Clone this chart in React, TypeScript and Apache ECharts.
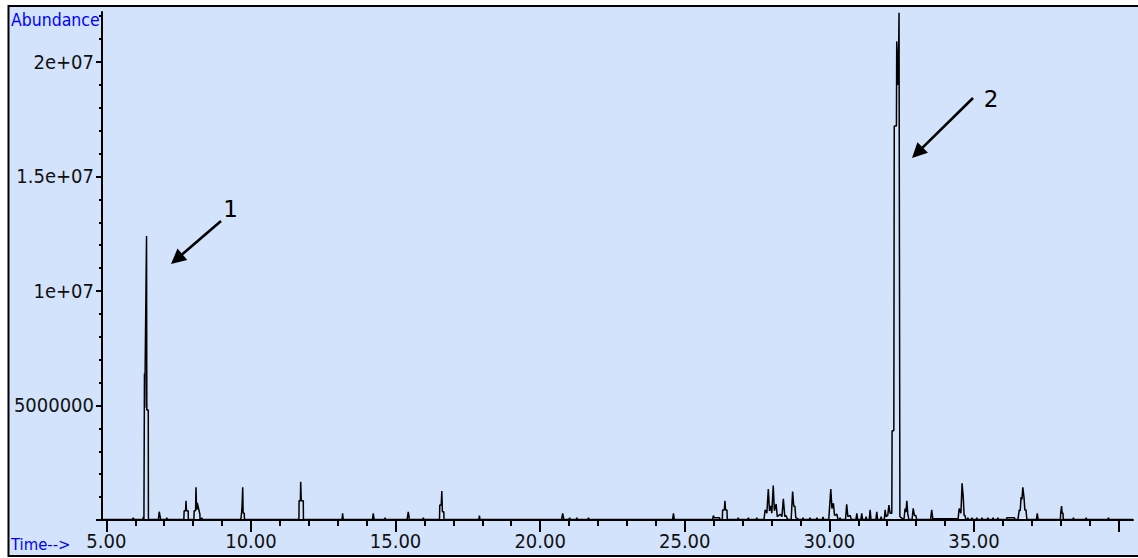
import React, { useEffect, useRef } from "react";
import * as echarts from "echarts";

const B = 20000;

// Chromatogram trace: [retention time (min), abundance]
const trace5to10: [number, number][] = [
  [4.86, B], [5.9, B], [5.93, 1.0e5], [5.96, B],
  [6.26, B], [6.28, 1.4e5], [6.3, B],
  [6.314, B], [6.318, 6.4e6], [6.33, 4.9e6], [6.34, 6.4e6], [6.39, 1.24e7], [6.4, 4.8e6], [6.45, 4.8e6], [6.455, B],
  [6.8, B], [6.83, 3.6e5], [6.86, 1.5e5], [6.88, B],
  [7.07, B], [7.09, 1.0e5], [7.11, B],
  [7.68, B], [7.69, 4.0e5], [7.74, 4.0e5], [7.755, 8.4e5], [7.77, 4.0e5], [7.83, 4.0e5], [7.835, B],
  [8.03, B], [8.035, 4.0e5], [8.085, 4.0e5], [8.1, 1.43e6], [8.115, 7.7e5], [8.13, 4.5e5], [8.145, 7.5e5], [8.235, 2.5e5], [8.24, B],
  [8.28, B], [8.3, 1.0e5], [8.32, B],
  [9.63, B], [9.66, 1.0e5], [9.69, 5.5e5], [9.7, 8.4e5], [9.715, 1.43e6], [9.73, 3.0e5], [9.77, 2.9e5], [9.775, B],
];

const trace10to20: [number, number][] = [
  [11.66, B], [11.665, 8.4e5], [11.71, 8.4e5], [11.72, 1.67e6], [11.74, 8.4e5], [11.81, 8.4e5], [11.815, B],
  [13.15, B], [13.17, 2.9e5], [13.19, B],
  [14.2, B], [14.23, 2.9e5], [14.26, B],
  [14.62, B], [14.64, 1.0e5], [14.66, B],
  [15.4, B], [15.44, 3.6e5], [15.48, B],
  [15.94, B], [15.96, 1.0e5], [15.98, B],
  [16.52, B], [16.53, 6.5e5], [16.58, 6.5e5], [16.6, 1.27e6], [16.62, 3.6e5], [16.67, 3.6e5], [16.675, B],
  [17.88, B], [17.9, 1.9e5], [17.92, B],
];

const trace20to30: [number, number][] = [
  [20.74, B], [20.78, 2.9e5], [20.82, B],
  [21.0, B], [21.02, 1.0e5], [21.04, B],
  [21.25, B], [21.27, 1.0e5], [21.29, B],
  [21.65, B], [21.67, 1.0e5], [21.69, B],
  [24.58, B], [24.61, 2.9e5], [24.64, B],
  [25.96, B], [25.99, 1.9e5], [26.02, 1.0e5], [26.2, 1.0e5], [26.22, B],
  [26.3, B], [26.31, 4.4e5], [26.37, 4.4e5], [26.39, 8.4e5], [26.41, 4.4e5], [26.46, 4.4e5], [26.47, B],
  [26.83, B], [26.85, 1.0e5], [26.87, B],
  [27.18, B], [27.2, 1.0e5], [27.22, B],
  [27.47, B], [27.49, 1.0e5], [27.51, B],
  [27.74, B], [27.78, 4.4e5], [27.84, 3.0e5], [27.89, 1.35e6], [27.93, 4.0e5], [27.97, 6.2e5], [28.01, 3.0e5],
  [28.06, 1.5e6], [28.1, 4.0e5], [28.16, 7.0e5], [28.2, 1.5e5], [28.3, 2.5e5], [28.36, 1.5e5], [28.41, 9.2e5],
  [28.46, 1.5e5], [28.5, 2.0e5], [28.56, B],
  [28.68, B], [28.7, 5.0e5], [28.73, 1.24e6], [28.77, 6.0e5], [28.81, 6.0e5], [28.84, 1.0e5], [28.95, B],
  [29.07, B], [29.09, 1.0e5], [29.11, B],
  [29.31, B], [29.33, 1.0e5], [29.35, B],
  [29.55, B], [29.57, 1.0e5], [29.59, B],
  [29.76, B], [29.78, 1.3e5], [29.8, B],
];

const trace30to41: [number, number][] = [
  [29.98, B], [30.0, 4.0e5], [30.05, 1.35e6], [30.09, 5.0e5], [30.14, 7.3e5], [30.18, 2.0e5], [30.26, 2.5e5], [30.3, B],
  [30.35, B], [30.37, 1.0e5], [30.39, B],
  [30.56, B], [30.6, 6.9e5], [30.64, 1.5e5], [30.72, 2.0e5], [30.76, B],
  [30.92, B], [30.95, 2.9e5], [30.98, B],
  [31.09, B], [31.12, 2.9e5], [31.15, B],
  [31.25, B], [31.27, 1.5e5], [31.29, B],
  [31.38, B], [31.41, 4.4e5], [31.44, B],
  [31.61, B], [31.64, 3.6e5], [31.67, B],
  [31.77, B], [31.79, 1.5e5], [31.81, B],
  [31.9, B], [31.93, 4.4e5], [31.96, 1.5e5], [32.02, 2.0e5], [32.06, 6.5e5], [32.1, 3.0e5], [32.16, 3.0e5],
  [32.17, 3.9e6], [32.23, 3.9e6], [32.245, 1.72e7], [32.32, 1.72e7], [32.33, 2.09e7], [32.37, 1.9e7], [32.4, 2.09e7],
  [32.41, 2.215e7], [32.44, 1.5e5], [32.48, 1.0e5],
  [32.58, B], [32.62, 5.0e5], [32.65, 3.5e5], [32.68, 8.4e5], [32.71, 3.0e5], [32.75, B],
  [32.86, B], [32.9, 5.1e5], [32.94, 2.0e5], [32.99, 2.0e5], [33.02, B],
  [33.5, B], [33.54, 4.4e5], [33.58, B], [33.6, 5.0e4], [34.4, 5.0e4],
  [34.45, B], [34.49, 5.0e5], [34.55, 3.0e5], [34.59, 1.6e6], [34.63, 1.0e6], [34.66, 2.0e5], [34.69, 2.0e5], [34.72, B],
  [34.77, B], [34.79, 1.0e5], [34.81, B], [34.91, B], [34.93, 1.0e5], [34.95, B],
  [35.08, B], [35.1, 1.0e5], [35.12, B], [35.26, B], [35.28, 1.0e5], [35.3, B],
  [35.46, B], [35.48, 1.0e5], [35.5, B], [35.64, B], [35.66, 1.0e5], [35.68, B],
  [35.81, B], [35.83, 1.0e5], [35.85, B],
  [36.12, B], [36.14, 1.0e5], [36.4, 1.0e5], [36.42, B],
  [36.52, B], [36.57, 4.5e5], [36.6, 4.0e5], [36.63, 1.0e6], [36.66, 9.0e5], [36.69, 1.43e6], [36.73, 1.0e6], [36.76, 4.4e5], [36.8, 4.4e5], [36.83, B],
  [37.16, B], [37.19, 2.9e5], [37.22, B],
  [37.99, B], [38.0, 3.0e5], [38.03, 6.1e5], [38.05, 3.0e5], [38.08, 3.0e5], [38.09, B],
  [38.42, B], [38.44, 1.0e5], [38.46, B],
  [38.86, B], [38.88, 1.0e5], [38.9, B],
  [39.63, B], [39.65, 1.0e5], [39.67, B],
  [40.5, B],
];

const xMajorTicks = [5, 10, 15, 20, 25, 30, 35, 40];
const xLabelValues = [5, 10, 15, 20, 25, 30, 35];
const xMinorTicks = [6, 7, 8, 9, 11, 12, 13, 14, 16, 17, 18, 19, 21, 22, 23, 24, 26, 27, 28, 29, 31, 32, 33, 34, 36, 37, 38, 39];
const yTickValues = [0, 5000000, 10000000, 15000000, 20000000];
const yTickLabels = ["", "5000000", "1e+07", "1.5e+07", "2e+07"];
const yMinorTicks = [1e6, 2e6, 3e6, 4e6, 6e6, 7e6, 8e6, 9e6, 11e6, 12e6, 13e6, 14e6, 16e6, 17e6, 18e6, 19e6, 21e6, 22e6];

const peakLabels = ["1", "2"];

const NARROW = "'Liberation Sans Narrow', 'Arial Narrow', 'DejaVu Sans Condensed', sans-serif";

function arrow(x1: number, y1: number, x2: number, y2: number) {
  const dx = x2 - x1;
  const dy = y2 - y1;
  const len = Math.sqrt(dx * dx + dy * dy);
  const ux = dx / len;
  const uy = dy / len;
  const L = 15;
  const W = 7.5;
  const bx = x2 - ux * L;
  const by = y2 - uy * L;
  return [
    {
      type: "line",
      shape: { x1, y1, x2: bx + ux * 2, y2: by + uy * 2 },
      style: { stroke: "#000", lineWidth: 2.6 },
      z: 10,
    },
    {
      type: "polygon",
      shape: {
        points: [
          [x2, y2],
          [bx - uy * W, by + ux * W],
          [bx + uy * W, by - ux * W],
        ],
      },
      style: { fill: "#000" },
      z: 10,
    },
  ];
}

export default function App() {
  const ref = useRef<HTMLDivElement>(null);
  useEffect(() => {
    if (!ref.current) return;
    const chart = echarts.init(ref.current, null, { renderer: "svg" });
    const trace = [...trace5to10, ...trace10to20, ...trace20to30, ...trace30to41];
    const xmin = 4.85;
    const xmax = 40.5;
    const ymax = 22183000;
    chart.setOption({
      animation: false,
      backgroundColor: "#ffffff",
      grid: { left: 102, right: 5, top: 12, bottom: 38, containLabel: false },
      xAxis: [
        {
          type: "value",
          min: xmin,
          max: xmax,
          position: "bottom",
          axisLine: { show: true, onZero: false, lineStyle: { color: "#000", width: 2 } },
          axisTick: { show: true, customValues: xMajorTicks, length: 12, lineStyle: { color: "#000", width: 2 } },
          axisLabel: {
            show: true,
            customValues: xLabelValues,
            formatter: (v: number) => v.toFixed(2),
            color: "#111",
            fontSize: 20,
            fontFamily: NARROW,
            margin: 11,
          },
          splitLine: { show: false },
        },
        {
          type: "value",
          min: xmin,
          max: xmax,
          position: "bottom",
          axisLine: { show: false, onZero: false },
          axisTick: { show: true, customValues: xMinorTicks, length: 6, lineStyle: { color: "#000", width: 2 } },
          axisLabel: { show: false },
          splitLine: { show: false },
        },
      ],
      yAxis: [
        {
          type: "value",
          min: 0,
          max: ymax,
          position: "left",
          axisLine: { show: true, onZero: false, lineStyle: { color: "#000", width: 2 } },
          axisTick: { show: true, customValues: yTickValues, length: 6, lineStyle: { color: "#000", width: 2 } },
          axisLabel: {
            show: true,
            customValues: yTickValues,
            formatter: (v: number) => {
              const i = yTickValues.indexOf(v);
              return i >= 0 ? yTickLabels[i] : "";
            },
            color: "#111",
            fontSize: 20,
            fontFamily: NARROW,
            margin: 8,
          },
          splitLine: { show: false },
        },
        {
          type: "value",
          min: 0,
          max: ymax,
          position: "left",
          axisLine: { show: false, onZero: false },
          axisTick: { show: true, customValues: yMinorTicks, length: 3, lineStyle: { color: "#000", width: 2 } },
          axisLabel: { show: false },
          splitLine: { show: false },
        },
      ],
      graphic: [
        {
          type: "rect",
          shape: { x: 8.5, y: 6, width: 1140, height: 550 },
          style: { fill: "#d3e3fc", stroke: "#000", lineWidth: 2 },
          z: -10,
          silent: true,
        },
        {
          type: "text",
          x: 11,
          y: 20,
          style: { text: "Abundance", fill: "#0000ff", font: `17.5px ${NARROW}`, verticalAlign: "middle", align: "left" },
          z: 10,
        },
        {
          type: "text",
          x: 11,
          y: 544,
          style: { text: "Time-->", fill: "#0000ff", font: `16.5px ${NARROW}`, verticalAlign: "middle", align: "left" },
          z: 10,
        },
        {
          type: "text",
          x: 230.5,
          y: 208.5,
          style: { text: peakLabels[0], fill: "#000", font: "23px 'DejaVu Sans', sans-serif", verticalAlign: "middle", align: "center" },
          z: 10,
        },
        {
          type: "text",
          x: 991,
          y: 98.5,
          style: { text: peakLabels[1], fill: "#000", font: "23px 'DejaVu Sans', sans-serif", verticalAlign: "middle", align: "center" },
          z: 10,
        },
        ...arrow(221, 221, 171, 264),
        ...arrow(973, 98, 912, 158),
      ],
      series: [
        {
          type: "line",
          xAxisIndex: 0,
          yAxisIndex: 0,
          data: trace,
          symbol: "none",
          lineStyle: { color: "#000", width: 1.5 },
          z: 3,
        },
      ],
    });
    return () => chart.dispose();
  }, []);
  return <div ref={ref} style={{ position: "absolute", left: 0, top: 0, width: 1138, height: 558 }} />;
}
